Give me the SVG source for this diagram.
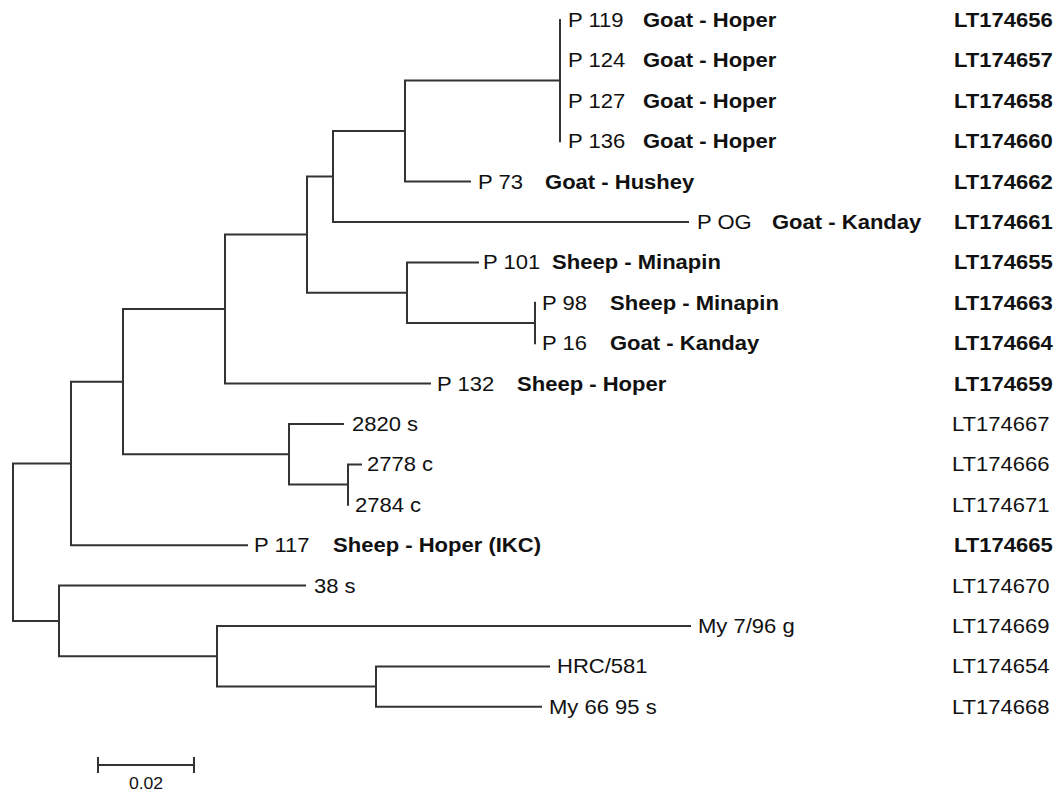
<svg xmlns="http://www.w3.org/2000/svg" width="1057" height="794" viewBox="0 0 1057 794">
<style>
  .br { fill: none; stroke: #333; stroke-width: 2; stroke-linecap: square; }
  text { font-family: "Liberation Sans", Arial, sans-serif; font-size: 19.5px; fill: #111; transform-box: fill-box; transform-origin: 0 50%; transform: scaleX(1.13); }
  .b { font-weight: bold; }
  .sc { font-size: 16px; text-anchor: middle; transform-origin: 50% 50%; transform: scaleX(1.1); }
</style>
<rect width="1057" height="794" fill="#fff"/>
<g id="connectors" class="br">
  <path d="M13,463.5 V621 M13,463.5 H71 M13,621 H59"/>
  <path d="M71,381.7 V545.2 M71,381.7 H123 M71,545.2 H247"/>
  <path d="M123,309.1 V454.3 M123,309.1 H225 M123,454.3 H289"/>
  <path d="M225,234.6 V383.6 M225,234.6 H307 M225,383.6 H430"/>
  <path d="M307,176.6 V292.7 M307,176.6 H333 M307,292.7 H407"/>
  <path d="M333,131.1 V222 M333,131.1 H405 M333,222 H688"/>
  <path d="M405,80.6 V181.6 M405,80.6 H560 M405,181.6 H470"/>
  <path d="M560,20 V141.2"/>
  <path d="M407,262.4 V323 M407,262.4 H478 M407,323 H535"/>
  <path d="M535,302.8 V343.2"/>
  <path d="M289,424 V484.6 M289,424 H343 M289,484.6 H348"/>
  <path d="M348,464.4 V504.8 M348,464.4 H361"/>
  <path d="M59,585.6 V656.3 M59,585.6 H305 M59,656.3 H217"/>
  <path d="M217,626 V686.6 M217,626 H690 M217,686.6 H376"/>
  <path d="M376,666.4 V706.8 M376,666.4 H549 M376,706.8 H541"/>
</g>
<g id="leaf-P119"><text x="568" y="27">P 119</text><text class="b" x="643" y="27">Goat - Hoper</text><text class="b" x="954" y="27">LT174656</text></g>
<g id="leaf-P124"><text x="568" y="67.4">P 124</text><text class="b" x="643" y="67.4">Goat - Hoper</text><text class="b" x="954" y="67.4">LT174657</text></g>
<g id="leaf-P127"><text x="568" y="107.8">P 127</text><text class="b" x="643" y="107.8">Goat - Hoper</text><text class="b" x="954" y="107.8">LT174658</text></g>
<g id="leaf-P136"><text x="568" y="148.2">P 136</text><text class="b" x="643" y="148.2">Goat - Hoper</text><text class="b" x="954" y="148.2">LT174660</text></g>
<g id="leaf-P73"><text x="478" y="188.6">P 73</text><text class="b" x="545" y="188.6">Goat - Hushey</text><text class="b" x="954" y="188.6">LT174662</text></g>
<g id="leaf-POG"><text x="697" y="229">P OG</text><text class="b" x="772" y="229">Goat - Kanday</text><text class="b" x="954" y="229">LT174661</text></g>
<g id="leaf-P101"><text x="483" y="269.4">P 101</text><text class="b" x="552" y="269.4">Sheep - Minapin</text><text class="b" x="954" y="269.4">LT174655</text></g>
<g id="leaf-P98"><text x="542" y="309.8">P 98</text><text class="b" x="610" y="309.8">Sheep - Minapin</text><text class="b" x="954" y="309.8">LT174663</text></g>
<g id="leaf-P16"><text x="542" y="350.2">P 16</text><text class="b" x="610" y="350.2">Goat - Kanday</text><text class="b" x="954" y="350.2">LT174664</text></g>
<g id="leaf-P132"><text x="437" y="390.6">P 132</text><text class="b" x="517" y="390.6">Sheep - Hoper</text><text class="b" x="954" y="390.6">LT174659</text></g>
<g id="leaf-2820s"><text x="352" y="431">2820 s</text><text x="952" y="431">LT174667</text></g>
<g id="leaf-2778c"><text x="367" y="471.4">2778 c</text><text x="952" y="471.4">LT174666</text></g>
<g id="leaf-2784c"><text x="355" y="511.8">2784 c</text><text x="952" y="511.8">LT174671</text></g>
<g id="leaf-P117"><text x="254" y="552.2">P 117</text><text class="b" x="333" y="552.2">Sheep - Hoper (IKC)</text><text class="b" x="954" y="552.2">LT174665</text></g>
<g id="leaf-38s"><text x="314" y="592.6">38 s</text><text x="952" y="592.6">LT174670</text></g>
<g id="leaf-My796g"><text x="698" y="633">My 7/96 g</text><text x="952" y="633">LT174669</text></g>
<g id="leaf-HRC581"><text x="557" y="673.4">HRC/581</text><text x="952" y="673.4">LT174654</text></g>
<g id="leaf-My6695s"><text x="549" y="713.8">My 66 95 s</text><text x="952" y="713.8">LT174668</text></g>
<g id="scale-bar">
  <path class="br" d="M98,765 H194 M98,758 V772 M194,758 V772"/>
  <text class="sc" x="146" y="789">0.02</text>
</g>
</svg>
